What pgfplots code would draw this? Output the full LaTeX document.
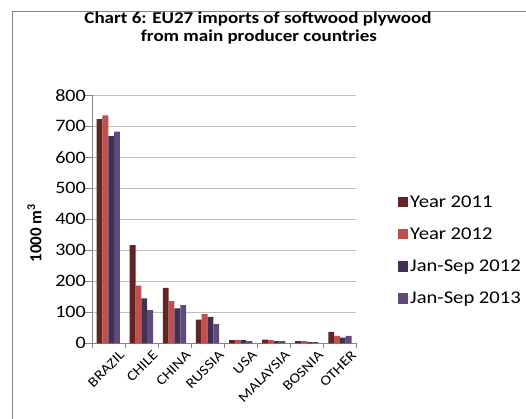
\documentclass[border=0pt]{standalone}
\usepackage{fontspec}
\setmainfont{Carlito}
\newfontfamily\wide{Carlito}[FakeStretch=1.15]
\usepackage{pgfplots}
\pgfplotsset{compat=1.18}
\definecolor{cA}{HTML}{632523}
\definecolor{cB}{HTML}{C0504D}
\definecolor{cC}{HTML}{403152}
\definecolor{cD}{HTML}{604A7B}
\definecolor{gridc}{HTML}{BFBFBF}
\definecolor{axc}{HTML}{868686}
\begin{document}
\begin{tikzpicture}
\useasboundingbox (0bp,0bp) rectangle (526bp,-419bp);
\draw[axc, line width=0.9bp] (12.5bp,-419bp) -- (12.5bp,-11.5bp) -- (526bp,-11.5bp);
\node[anchor=base, font=\fontsize{16.6}{18}\selectfont\wide\bfseries] at (258bp,-23.3bp) {Chart 6: EU27 imports of softwood plywood};
\node[anchor=base, font=\fontsize{16.6}{18}\selectfont\wide\bfseries] at (259bp,-41.7bp) {from main producer countries};
\node[rotate=90, font=\fontsize{17}{19}\selectfont\bfseries] at (34.5bp,-233bp) {1000 m\textsuperscript{3}};
\begin{axis}[
  at={(108.3bp,-343.3bp)}, anchor=origin,
  scale only axis, width=264.7bp, height=248bp,
  xmin=-0.5, xmax=7.5, ymin=0, ymax=800,
  ytick={0,100,...,800},
  xtick={0,...,7},
  xticklabels={BRAZIL,CHILE,CHINA,RUSSIA,USA,MALAYSIA,BOSNIA,OTHER},
  x tick label style={rotate=45, anchor=north east, font=\fontsize{14}{16}\selectfont\wide, inner sep=1pt, xshift=9bp, yshift=-6bp},
  y tick label style={font=\fontsize{17.5}{19}\selectfont\wide, xshift=4.5bp},
  /pgf/number format/assume math mode=true,
  major x tick style={draw=none},
  minor xtick={-0.5,0.5,...,7.5},
  minor x tick style={axc},
  major y tick style={axc},
  tick align=outside,
  major tick length=7bp, minor tick length=5bp,
  axis x line*=bottom, axis y line*=left,
  axis line style={axc, -},
  ymajorgrids, grid style={gridc, line width=0.9bp},
  ybar=0pt, bar width=0.176,
  legend style={at={(1.155,0.374)}, anchor=west, draw=none, fill=none, inner sep=0pt,
    font=\fontsize{18}{20}\selectfont\wide, row sep=15bp},
  legend cell align=left,
  legend image code/.code={\fill[#1] (0bp,-5bp) rectangle (10.5bp,5.5bp);},
]
\addplot[fill=cA, draw=none] coordinates {(0,723) (1,317) (2,179) (3,76) (4,10) (5,12) (6,7) (7,37)};
\addplot[fill=cB, draw=none] coordinates {(0,735) (1,186) (2,136) (3,94) (4,10) (5,10) (6,7) (7,24)};
\addplot[fill=cC, draw=none] coordinates {(0,668) (1,145) (2,113) (3,85) (4,10) (5,7) (6,4) (7,18)};
\addplot[fill=cD, draw=none] coordinates {(0,683) (1,107) (2,123) (3,62) (4,7) (5,7) (6,4) (7,24)};
\legend{Year 2011, Year 2012, Jan-Sep 2012, Jan-Sep 2013}
\end{axis}
\end{tikzpicture}
\end{document}
